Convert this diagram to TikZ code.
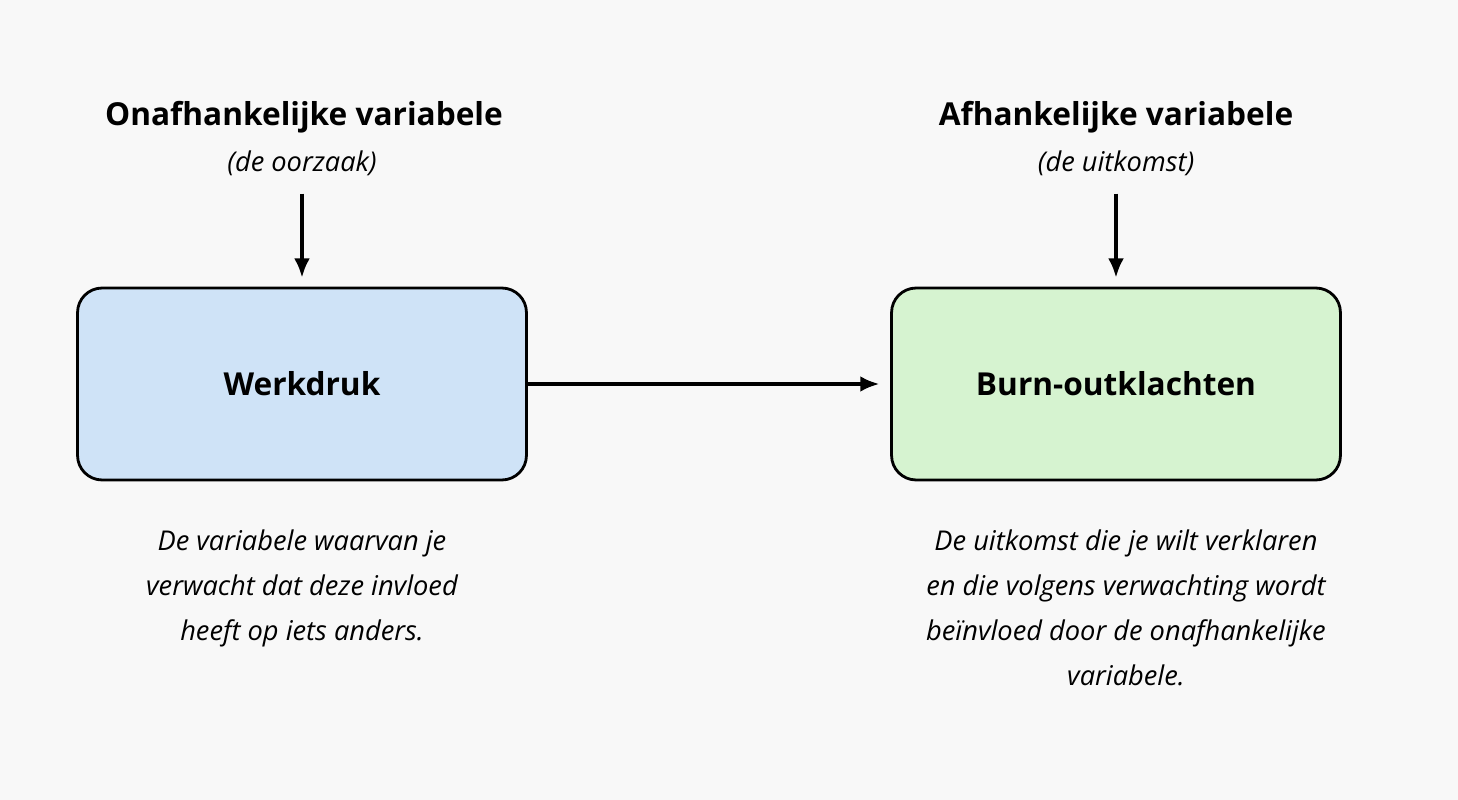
\documentclass[tikz,border=0pt]{standalone}
\usepackage{fontspec}
\setmainfont{Open Sans}
\usetikzlibrary{positioning,arrows.meta}
\definecolor{cause}{HTML}{CFE3F7}
\definecolor{effect}{HTML}{D6F3D0}
\definecolor{bg}{HTML}{F8F8F8}
\tikzset{
  varbox/.style={draw, line width=1.6pt, rounded corners=14pt, minimum width=8.98cm, minimum height=3.84cm, font=\fontsize{18}{21}\selectfont\bfseries},
  head/.style={font=\fontsize{18}{21}\selectfont\bfseries},
  sub/.style={font=\fontsize{15.5}{18}\selectfont\itshape},
  note/.style={align=center, font=\fontsize{15.5}{25.5}\selectfont\itshape},
  pointer/.style={-{Latex[length=11pt,width=9pt]}, line width=2.2pt}
}
\begin{document}
\begin{tikzpicture}[x=0.02cm,y=-0.02cm]
\fill[bg] (0,0) rectangle (1458,800);
\node[varbox, fill=cause] (werk) at (302,384) {Werkdruk};
\node[varbox, fill=effect] (burn) at (1116,384) {Burn-outklachten};
\draw[pointer, shorten >=6pt] (werk.east) -- (burn.west);
% bovenkant
\node[head] (onaf) at (304,117) {Onafhankelijke variabele};
\node[sub] (oorzaak) at (302,163) {(de oorzaak)};
\node[head] (af) at (1116,117) {Afhankelijke variabele};
\node[sub] (uitkomst) at (1116,163) {(de uitkomst)};
\draw[pointer, shorten >=5pt] (oorzaak.south)++(0,12) -- (werk.north);
\draw[pointer, shorten >=5pt] (uitkomst.south)++(0,12) -- (burn.north);
% uitleg
\node[note, anchor=north] (uitlegA) at (302,524) {De variabele waarvan je\\verwacht dat deze invloed\\heeft op iets anders.};
\node[note, anchor=north] (uitlegB) at (1126,524) {De uitkomst die je wilt verklaren\\en die volgens verwachting wordt\\beïnvloed door de onafhankelijke\\variabele.};
\end{tikzpicture}
\end{document}
